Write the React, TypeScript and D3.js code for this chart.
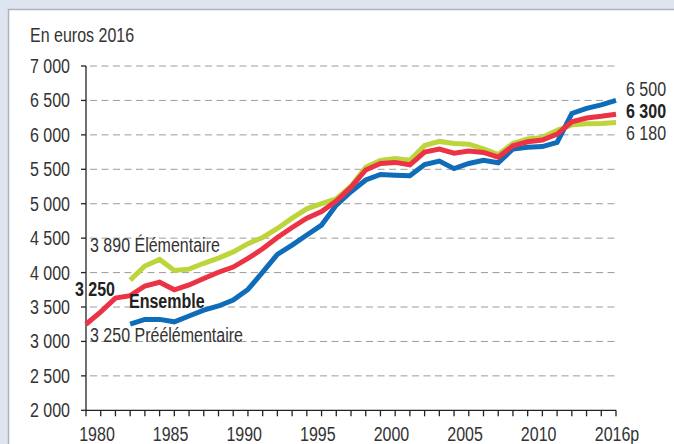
import React from 'react';
import * as d3 from 'd3';

// Dépense moyenne par élève, en euros 2016
const years = d3.range(1980, 2017);
const subYears = d3.range(1983, 2017);

const ensemble = [
  3250, 3430, 3630, 3665, 3805, 3860, 3750, 3820, 3915, 4005,
  4080, 4205, 4345, 4510, 4655, 4790, 4885, 5040, 5240, 5490,
  5585, 5600, 5565, 5750, 5795, 5735, 5765, 5745, 5675, 5840,
  5900, 5925, 6010, 6190, 6245, 6270, 6300,
];

const elementaire = [
  3890, 4095, 4190, 4030, 4050, 4135, 4210,
  4300, 4420, 4510, 4640, 4790, 4925, 5000, 5070, 5255, 5530,
  5630, 5655, 5630, 5845, 5905, 5875, 5865, 5795, 5715, 5875,
  5940, 5960, 6065, 6145, 6160, 6165, 6180,
];

const preelementaire = [
  3250, 3320, 3320, 3285, 3370, 3455, 3515,
  3600, 3755, 4005, 4265, 4400, 4545, 4690, 4980, 5175, 5345,
  5425, 5415, 5405, 5570, 5620, 5510, 5585, 5630, 5595, 5795,
  5820, 5830, 5890, 6310, 6385, 6435, 6500,
];

const yTicks = d3.range(2000, 7001, 500);
const xLabels = [
  { year: 1980, text: '1980' },
  { year: 1985, text: '1985' },
  { year: 1990, text: '1990' },
  { year: 1995, text: '1995' },
  { year: 2000, text: '2000' },
  { year: 2005, text: '2005' },
  { year: 2010, text: '2010' },
  { year: 2016, text: '2016p' },
];

const BLUE = '#0f6cb8';
const RED = '#ec3346';
const GREEN = '#bdd43a';
const FONT = '"Liberation Sans", Arial, sans-serif';
const FS = 20;
const SX = 0.8; // condensed look

const W = 674;
const H = 444;

const fmt = d3.formatLocale({ decimal: ',', thousands: ' ', grouping: [3], currency: ['', ' €'] }).format(',');

// narrow text: Liberation Sans squeezed horizontally
const Txt: React.FC<{
  x: number; y: number; anchor?: 'start' | 'middle' | 'end';
  bold?: boolean; fill?: string; children: React.ReactNode;
}> = ({ x, y, anchor = 'start', bold = false, fill = '#333', children }) => (
  <text
    transform={`translate(${x},${y}) scale(${SX},1)`}
    textAnchor={anchor}
    fontSize={FS}
    fontWeight={bold ? 'bold' : 'normal'}
    fill={fill}
  >
    {children}
  </text>
);

export default function App() {
  const x = d3.scaleLinear().domain([1980, 2016]).range([86, 616]);
  const y = d3.scaleLinear().domain([2000, 7000]).range([410.3, 66]);

  const line = d3.line<[number, number]>()
    .x(d => x(d[0]))
    .y(d => y(d[1]));

  const series = [
    { key: 'elem', color: GREEN, pts: subYears.map((yr, i) => [yr, elementaire[i]] as [number, number]) },
    { key: 'pre', color: BLUE, pts: subYears.map((yr, i) => [yr, preelementaire[i]] as [number, number]) },
    { key: 'ens', color: RED, pts: years.map((yr, i) => [yr, ensemble[i]] as [number, number]) },
  ];

  const last = (arr: number[]) => arr[arr.length - 1];

  return (
    <div style={{ position: 'absolute', left: 0, top: 0 }}>
      <svg width={W} height={H} style={{ display: 'block', fontFamily: FONT }}>
        <rect x={0} y={0} width={W} height={H} fill="#dfe5f0" />
        <rect x={8.5} y={9.5} width={W + 20} height={H + 20} fill="#fff" stroke="#aeb2ba" strokeWidth={1.5} />

        <Txt x={30} y={41.5}>En euros 2016</Txt>

        {/* grille */}
        {yTicks.filter(t => t > 2000).map(t => (
          <line key={'g' + t} x1={90} x2={616} y1={y(t)} y2={y(t)}
            stroke="#9c9c9c" strokeWidth={1} strokeDasharray="7 4.5" />
        ))}

        {/* axe vertical */}
        <line x1={86} x2={86} y1={y(7000)} y2={y(2000)} stroke="#222" strokeWidth={1.3} />
        {yTicks.map(t => (
          <g key={'y' + t}>
            <line x1={81} x2={86} y1={y(t)} y2={y(t)} stroke="#222" strokeWidth={1.3} />
            <Txt x={70} y={y(t) + 7} anchor="end">{fmt(t)}</Txt>
          </g>
        ))}

        {/* axe horizontal */}
        <line x1={x(1980)} x2={x(2016)} y1={y(2000)} y2={y(2000)} stroke="#222" strokeWidth={1.3} />
        {years.map(yr => (
          <line key={'t' + yr} x1={x(yr)} x2={x(yr)} y1={y(2000)} y2={y(2000) + 6} stroke="#222" strokeWidth={1.3} />
        ))}
        {xLabels.map(d => (
          <Txt key={'xl' + d.year} x={x(d.year) + (d.year === 2016 ? 1 : 11)} y={441} anchor="middle">{d.text}</Txt>
        ))}

        {/* courbes */}
        {series.map(s => (
          <path key={s.key} d={line(s.pts) || ''} fill="none" stroke={s.color} strokeWidth={5} />
        ))}

        {/* étiquettes gauche */}
        <Txt x={90} y={y(elementaire[0]) - 28.5}>{fmt(elementaire[0])} Élémentaire</Txt>
        <Txt x={115} y={y(ensemble[0]) - 28.5} anchor="end" bold fill="#222">{fmt(ensemble[0])}</Txt>
        <Txt x={129} y={307.5} bold fill="#222">Ensemble</Txt>
        <Txt x={90} y={y(preelementaire[0]) + 17.5}>{fmt(preelementaire[0])} Préélémentaire</Txt>

        {/* étiquettes droite */}
        <Txt x={626} y={y(last(preelementaire)) - 4.5}>{fmt(last(preelementaire))}</Txt>
        <Txt x={626} y={y(last(ensemble)) + 4} bold fill="#222">{fmt(last(ensemble))}</Txt>
        <Txt x={626} y={y(last(elementaire)) + 18}>{fmt(last(elementaire))}</Txt>
      </svg>
    </div>
  );
}
